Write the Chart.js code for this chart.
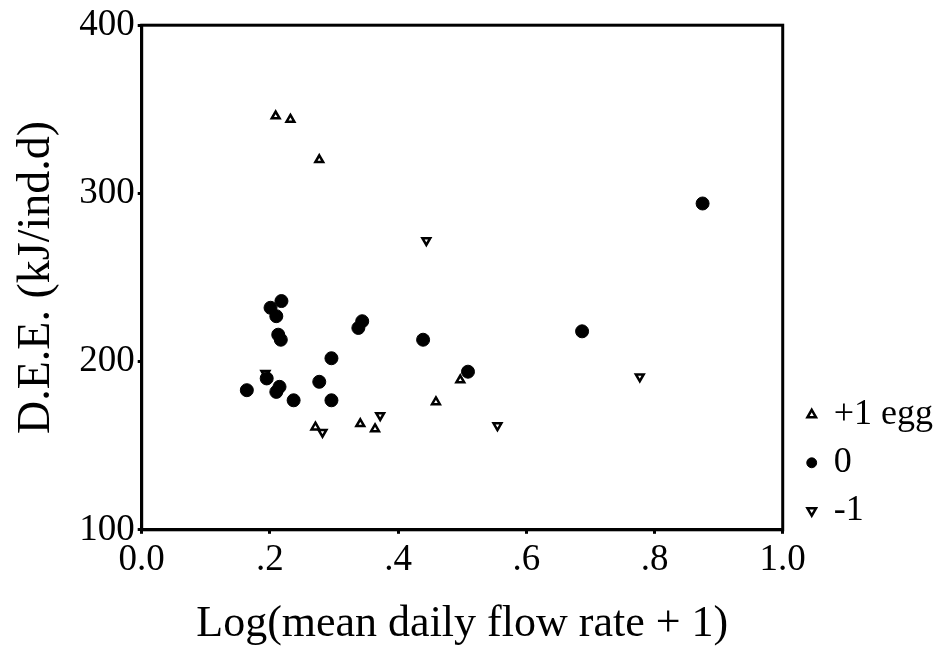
<!DOCTYPE html>
<html>
<head>
<meta charset="utf-8">
<script src="https://cdn.jsdelivr.net/npm/chart.js@4.4.1/dist/chart.umd.min.js"></script>
<style>
    body { margin: 0; background: #fff; }
    canvas { display: block; }
</style>
</head>
<body>
<canvas id="deeChart" width="934" height="651"></canvas>
<script>
// values
const plusEggX = [0.209, 0.232, 0.277, 0.271, 0.341, 0.364, 0.459, 0.497];
const plusEggY = [346, 344, 320, 161, 163, 160, 176, 189];

const zeroX = [0.218, 0.201, 0.210, 0.213, 0.217, 0.344, 0.338, 0.439, 0.296, 0.195,
    0.164, 0.215, 0.210, 0.277, 0.237, 0.296, 0.875, 0.687, 0.509];
const zeroY = [236, 232, 227, 216, 213, 224, 220, 213, 202, 190,
    183, 185, 182, 188, 177, 177, 294, 218, 194];

const minusEggX = [0.444, 0.282, 0.372, 0.555, 0.777, 0.193];
const minusEggY = [272, 158, 168, 162, 191, 193];

const seriesNames = ['+1 egg', '0', '-1'];
const xTickLabels = ['0.0', '.2', '.4', '.6', '.8', '1.0'];
const yTickLabels = ['100', '200', '300', '400'];

const toPoints = (xs, ys) => xs.map((x, i) => ({ x: x, y: ys[i] }));

const serif = 'Liberation Serif';
Chart.defaults.color = '#000';
Chart.defaults.font.family = serif;

// full box around the plot
const frame = {
    id: 'frame',
    afterLayout(chart) {
        // nudge legend to where the figure has it
        chart.legend.left += 13;
        chart.legend.right += 13;
        chart.legend.top += 11;
        chart.legend.bottom += 11;
    },
    afterDatasetsDraw(chart) {
        const { ctx, chartArea } = chart;
        ctx.save();
        ctx.strokeStyle = '#000';
        ctx.lineWidth = 3;
        ctx.strokeRect(chartArea.left, chartArea.top, chartArea.right - chartArea.left, chartArea.bottom - chartArea.top);
        ctx.restore();
    }
};

const ctx = document.getElementById('deeChart').getContext('2d');
const deeChart = new Chart(ctx, {
    type: 'scatter',
    data: {
        datasets: [{
            label: seriesNames[0],
            data: toPoints(plusEggX, plusEggY),
            pointStyle: 'triangle',
            pointRadius: 4.5,
            borderWidth: 2.5,
            backgroundColor: '#fff',
            borderColor: '#000'
        }, {
            label: seriesNames[1],
            data: toPoints(zeroX, zeroY),
            pointStyle: 'circle',
            pointRadius: 6.5,
            borderWidth: 1,
            backgroundColor: '#000',
            borderColor: '#000'
        }, {
            label: seriesNames[2],
            data: toPoints(minusEggX, minusEggY),
            pointStyle: 'triangle',
            rotation: 180,
            pointRadius: 4.5,
            borderWidth: 2.5,
            backgroundColor: '#fff',
            borderColor: '#000'
        }]
    },
    options: {
        responsive: false,
        animation: false,
        devicePixelRatio: 1,
        layout: {
            padding: { top: 25, right: 4, left: 0, bottom: 0 }
        },
        plugins: {
            tooltip: { enabled: false },
            legend: {
                position: 'right',
                align: 'end',
                fullSize: false,
                labels: {
                    usePointStyle: true,
                    boxWidth: 8,
                    boxHeight: 7,
                    padding: 12,
                    color: '#000',
                    font: { family: serif, size: 36 }
                }
            }
        },
        scales: {
            x: {
                type: 'linear',
                min: 0,
                max: 1,
                ticks: {
                    stepSize: 0.2,
                    padding: 4,
                    color: '#000',
                    font: { family: serif, size: 37 },
                    callback: (value, index) => xTickLabels[index]
                },
                grid: {
                    drawOnChartArea: false,
                    tickLength: 4,
                    tickWidth: 3,
                    color: '#000'
                },
                border: { color: '#000', width: 3 },
                title: {
                    display: true,
                    text: 'Log(mean daily flow rate + 1)',
                    color: '#000',
                    font: { family: serif, size: 44 },
                    padding: { top: 12, bottom: 0 }
                }
            },
            y: {
                type: 'linear',
                min: 100,
                max: 400,
                ticks: {
                    stepSize: 100,
                    padding: 3,
                    color: '#000',
                    font: { family: serif, size: 37 },
                    callback: (value, index) => yTickLabels[index]
                },
                grid: {
                    drawOnChartArea: false,
                    tickLength: 4,
                    tickWidth: 3,
                    color: '#000'
                },
                border: { color: '#000', width: 3 },
                title: {
                    display: true,
                    text: 'D.E.E. (kJ/ind.d)',
                    color: '#000',
                    font: { family: serif, size: 46 },
                    padding: { top: 9, bottom: 12 }
                }
            }
        }
    },
    plugins: [frame]
});
</script>
</body>
</html>
